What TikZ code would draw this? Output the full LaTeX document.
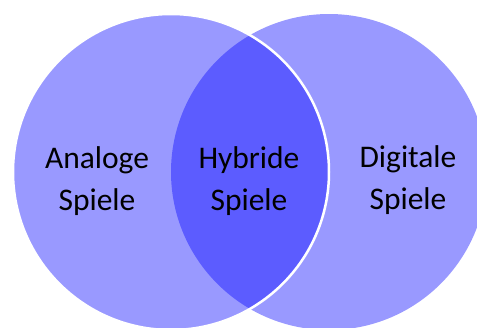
\documentclass[tikz,border=0pt]{standalone}
\usepackage{fontspec}
\setmainfont{Carlito}
\begin{document}
\begin{tikzpicture}[x=1pt,y=-1pt,
  setfill/.style={fill=blue,fill opacity=0.4},
  label/.style={align=center,inner sep=0pt,anchor=base,
    font=\fontsize{31.5}{42}\selectfont,text=black}]
\useasboundingbox (0,0) rectangle (477,327);
\clip (0,0) rectangle (477,327);
% digital games (right set)
\path[setfill] (329,172) circle[radius=158];
% analogue games (left set), outlined in white
\path[setfill,draw=white,line width=2.5pt,draw opacity=1] (171,172) circle[radius=158];
% anchor=base sits on the last line of each label
\node[label] (analog) at (97,210) {Analoge\\Spiele};
\node[label] (hybrid) at (249,210) {Hybride\\Spiele};
\node[label] (digital) at (408,209) {Digitale\\Spiele};
\end{tikzpicture}
\end{document}
